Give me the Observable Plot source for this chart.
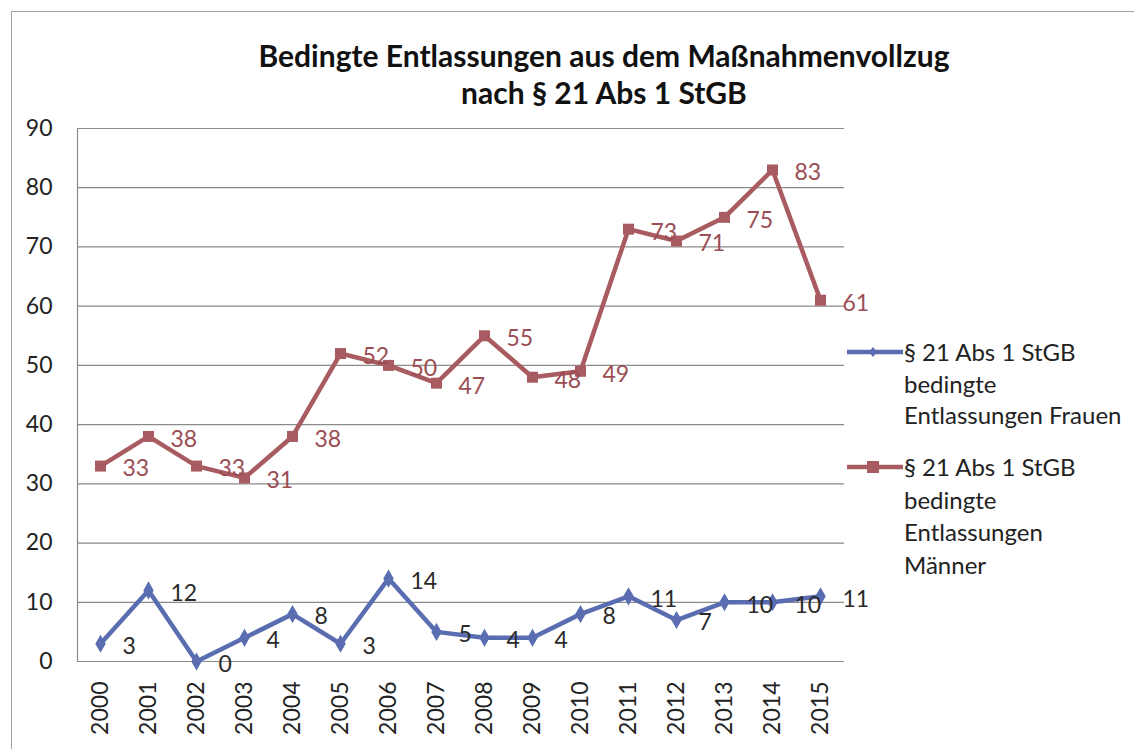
<!DOCTYPE html>
<html>
<head>
<meta charset="utf-8">
<script src="https://cdn.jsdelivr.net/npm/d3@7"></script>
<script src="https://cdn.jsdelivr.net/npm/@observablehq/plot@0.6"></script>
<style>
  body { margin: 0; background: #fff; font-family: Lato, "Liberation Sans", sans-serif; color: #1a1a1a; }
  #wrap { position: relative; width: 1134px; height: 749px; overflow: hidden; background: #fff; }
  #frame { position: absolute; left: 11px; top: 11px; width: 1300px; height: 900px; border: 1.5px solid #a0a0a0; }
  #title { position: absolute; left: 104px; width: 1000px; top: 37px; text-align: center; font-weight: bold; font-size: 30px; line-height: 37px; color: #111; }
  #chart { position: absolute; left: 0; top: 0; }
  .leg { position: absolute; left: 845px; font-size: 24px; color: #222; }
  .leg .sw { position: absolute; left: 0; top: 0; }
  .leg .txt { position: absolute; left: 59px; top: 0; white-space: nowrap; }
</style>
</head>
<body>
<div id="wrap">
  <div id="frame"></div>
  <div id="title">Bedingte Entlassungen aus dem Maßnahmenvollzug<br>nach § 21 Abs 1 StGB</div>
  <div id="chart"></div>
  <div id="legend"></div>
</div>
<script>
const years = [2000, 2001, 2002, 2003, 2004, 2005, 2006, 2007, 2008, 2009, 2010, 2011, 2012, 2013, 2014, 2015];
const frauen = [3, 12, 0, 4, 8, 3, 14, 5, 4, 4, 8, 11, 7, 10, 10, 11];
const maenner = [33, 38, 33, 31, 38, 52, 50, 47, 55, 48, 49, 73, 71, 75, 83, 61];
const seriesNames = ["§ 21 Abs 1 StGB bedingte Entlassungen Frauen", "§ 21 Abs 1 StGB bedingte Entlassungen Männer"];
const legendLines = [["§ 21 Abs 1 StGB", "bedingte", "Entlassungen Frauen"], ["§ 21 Abs 1 StGB", "bedingte", "Entlassungen", "Männer"]];
const yTicks = [0, 10, 20, 30, 40, 50, 60, 70, 80, 90];

const blue = "#5a6db1";
const red = "#a85b61";
const fontFamily = "Lato, 'Liberation Sans', sans-serif";

const rowsF = years.map((y, i) => ({year: y, value: frauen[i], series: seriesNames[0]}));
const rowsM = years.map((y, i) => ({year: y, value: maenner[i], series: seriesNames[1]}));

const chart = Plot.plot({
  width: 900,
  height: 749,
  marginTop: 128,
  marginBottom: 88,
  marginLeft: 77,
  marginRight: 56,
  style: {fontSize: "23px", fontFamily, color: "#222", background: "transparent"},
  x: {type: "point", domain: years, padding: 0, range: [100, 820], label: null},
  y: {domain: [0, 90], label: null},
  marks: [
    Plot.gridY(yTicks, {stroke: "#8a8a8a", strokeOpacity: 1, strokeWidth: 1.2}),
    Plot.frame({anchor: "left", stroke: "#8a8a8a", strokeWidth: 1.2}),
    Plot.axisY(yTicks, {tickSize: 0, tickPadding: 25, fontSize: 23, fill: "#222"}),
    Plot.axisX(years, {tickSize: 0, tickPadding: 20, tickRotate: -90, fontSize: 23, fill: "#222", tickFormat: d => String(d)}),
    Plot.line(rowsF, {x: "year", y: "value", stroke: blue, strokeWidth: 4.5}),
    Plot.line(rowsM, {x: "year", y: "value", stroke: red, strokeWidth: 4.5}),
    Plot.dot(rowsF, {x: "year", y: "value", symbol: "diamond", r: 5.5, fill: blue}),
    Plot.dot(rowsM, {x: "year", y: "value", symbol: "square", r: 6.2, fill: red}),
    Plot.text(rowsF, {x: "year", y: "value", text: d => String(d.value), textAnchor: "start", dx: 22, dy: 3, fill: "#2a2a2a", fontSize: 23}),
    Plot.text(rowsM, {x: "year", y: "value", text: d => String(d.value), textAnchor: "start", dx: 22, dy: 3, fill: "#9b4d54", fontSize: 23})
  ]
});
document.getElementById("chart").appendChild(chart);

// Legend
const legend = document.getElementById("legend");
const legTops = [336, 451];
const legColors = [blue, red];
const legSymbols = ["diamond", "square"];
legendLines.forEach((lines, i) => {
  const div = document.createElement("div");
  div.className = "leg";
  div.style.top = legTops[i] + "px";
  div.style.lineHeight = (i === 0 ? 31.5 : 32.7) + "px";
  const sym = legSymbols[i] === "diamond"
    ? `<path d="M28,11 L32,16 L28,21 L24,16 Z" fill="${legColors[i]}"/>`
    : `<rect x="22" y="10" width="12" height="12" fill="${legColors[i]}"/>`;
  div.innerHTML = `<svg class="sw" width="60" height="32"><line x1="2" x2="58" y1="16" y2="16" stroke="${legColors[i]}" stroke-width="4.5"/>${sym}</svg>` +
    `<div class="txt">${lines.join("<br>")}</div>`;
  legend.appendChild(div);
});
</script>
</body>
</html>
